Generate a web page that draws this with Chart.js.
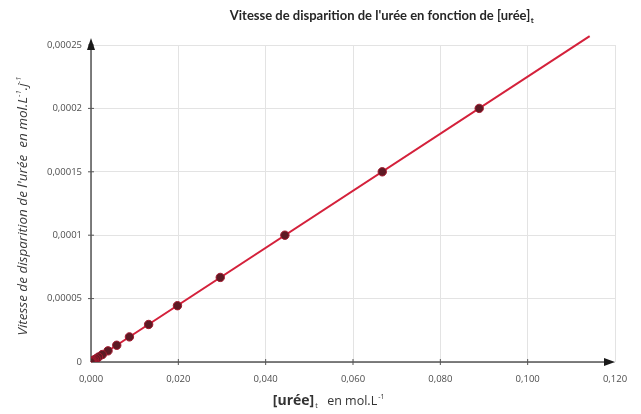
<!DOCTYPE html>
<html>
<head>
<meta charset="utf-8">
<script src="https://cdn.jsdelivr.net/npm/chart.js@4/dist/chart.umd.min.js"></script>
<style>
  html, body { margin: 0; padding: 0; background: #ffffff; }
  #wrap { width: 641px; height: 414px; position: relative; }
</style>
</head>
<body>
<div id="wrap"><canvas id="c" width="641" height="414"></canvas></div>
<script>
// Concentration d'urée (mol/L) et vitesse de disparition (mol/L/j)
const ureeConc = [0.0889, 0.0667, 0.0444, 0.0296, 0.0198, 0.0132, 0.0088, 0.0059, 0.0039, 0.0026, 0.0017, 0.0012, 0.0008, 0.0005, 0.0003, 0.0002, 0.0001, 0];
const vitesse  = [0.000200, 0.000150, 0.000100, 0.0000667, 0.0000444, 0.0000296, 0.0000198, 0.0000132, 0.0000088, 0.0000059, 0.0000039, 0.0000026, 0.0000018, 0.0000012, 0.0000007, 0.0000004, 0.0000002, 0];

// Droite de tendance (passe par l'origine)
const trendX = [0, 0.1142];
const trendY = [0, 0.000257];

const xTicks = [0, 0.02, 0.04, 0.06, 0.08, 0.10, 0.12];
const yTicks = [0, 0.00005, 0.0001, 0.00015, 0.0002, 0.00025];

const pts = ureeConc.map((x, i) => ({ x: x, y: vitesse[i] }));
const trend = trendX.map((x, i) => ({ x: x, y: trendY[i] }));

const axisColor = '#555555';

// Axes fléchés, graduations et titres
const decor = {
  id: 'decor',
  beforeDatasetsDraw(chart) {
    const { ctx, chartArea: a, scales: { x, y } } = chart;
    const x0 = x.getPixelForValue(0), y0 = y.getPixelForValue(0);
    ctx.save();
    ctx.strokeStyle = axisColor;
    ctx.lineWidth = 1.5;
    ctx.beginPath();
    ctx.moveTo(x0, y0); ctx.lineTo(a.right - 6, y0);
    ctx.moveTo(x0, y0); ctx.lineTo(x0, a.top + 4);
    ctx.stroke();
    ctx.lineWidth = 1;
    ctx.beginPath();
    xTicks.forEach(v => { const p = x.getPixelForValue(v); if (v > 0 && v < 0.12) { ctx.moveTo(p, y0 - 3); ctx.lineTo(p, y0 + 3); } });
    yTicks.forEach(v => { const p = y.getPixelForValue(v); if (v > 0) { ctx.moveTo(x0 - 3, p); ctx.lineTo(x0 + 3, p); } });
    ctx.stroke();
    // pointes de flèches
    ctx.fillStyle = '#1a1a1a';
    ctx.beginPath();
    ctx.moveTo(a.right, y0); ctx.lineTo(a.right - 11, y0 - 4); ctx.lineTo(a.right - 11, y0 + 4); ctx.closePath();
    ctx.fill();
    ctx.beginPath();
    ctx.moveTo(x0, a.top - 7); ctx.lineTo(x0 - 4, a.top + 5); ctx.lineTo(x0 + 4, a.top + 5); ctx.closePath();
    ctx.fill();
    ctx.restore();
  },
  afterDraw(chart) {
    const { ctx } = chart;
    ctx.save();
    ctx.textBaseline = 'alphabetic';
    // titre
    ctx.fillStyle = '#262626';
    ctx.font = 'bold 13px Lato, "Open Sans", sans-serif';
    const t = "Vitesse de disparition de l'urée en fonction de [urée]";
    const tw = ctx.measureText(t).width;
    const tx = 380 - tw / 2;
    ctx.textAlign = 'left';
    ctx.fillText(t, tx, 20);
    ctx.font = 'bold 8px Lato, "Open Sans", sans-serif';
    ctx.fillText('t', tx + tw + 0.5, 23);

    // titre de l'axe des abscisses
    ctx.fillStyle = '#333333';
    ctx.font = 'bold 14px "Open Sans", sans-serif';
    const a1 = '[urée]';
    const w1 = ctx.measureText(a1).width;
    ctx.font = '12.5px "Open Sans", sans-serif';
    const a2 = 'en mol.L';
    const w2 = ctx.measureText(a2).width;
    const total = w1 + 13 + w2 + 6;
    let sx = 328 - total / 2;
    ctx.font = 'bold 14px "Open Sans", sans-serif';
    ctx.fillText(a1, sx, 405);
    ctx.font = '7px "Open Sans", sans-serif';
    ctx.fillText('t', sx + w1 + 1, 408);
    ctx.font = '12.5px "Open Sans", sans-serif';
    ctx.fillText(a2, sx + w1 + 13, 405);
    ctx.font = '7px "Open Sans", sans-serif';
    ctx.fillText('-1', sx + w1 + 13 + w2 + 1, 399);

    // titre de l'axe des ordonnées
    ctx.translate(27, 205);
    ctx.rotate(-Math.PI / 2);
    ctx.fillStyle = '#3a3a3a';
    ctx.font = 'italic 13.5px "Open Sans", sans-serif';
    const b1 = "Vitesse de disparition de l'urée  en mol.L";
    const b2 = '.j';
    const wb1 = ctx.measureText(b1).width;
    const wb2 = ctx.measureText(b2).width;
    ctx.font = 'italic 8px "Open Sans", sans-serif';
    const wsup = ctx.measureText('-1').width;
    const tot = wb1 + wsup + wb2 + wsup + 2;
    let bx = -tot / 2;
    ctx.font = 'italic 13.5px "Open Sans", sans-serif';
    ctx.fillText(b1, bx, 0);
    bx += wb1;
    ctx.font = 'italic 8px "Open Sans", sans-serif';
    ctx.fillText('-1', bx, -6);
    bx += wsup;
    ctx.font = 'italic 13.5px "Open Sans", sans-serif';
    ctx.fillText(b2, bx, 0);
    bx += wb2;
    ctx.font = 'italic 8px "Open Sans", sans-serif';
    ctx.fillText('-1', bx, -6);
    ctx.restore();
  }
};

new Chart(document.getElementById('c'), {
  type: 'scatter',
  data: {
    datasets: [
      {
        label: 'Vitesse',
        data: pts,
        showLine: false,
        pointRadius: 4.2,
        pointBackgroundColor: '#5e1a24',
        pointBorderColor: '#a3192e',
        pointBorderWidth: 1,
        order: 1
      },
      {
        label: 'Tendance',
        data: trend,
        showLine: true,
        borderColor: '#d4213b',
        borderWidth: 2,
        pointRadius: 0,
        clip: false,
        order: 2
      }
    ]
  },
  options: {
    responsive: false,
    animation: false,
    devicePixelRatio: 1,
    layout: { padding: { left: 0, right: 26, top: 45, bottom: 0 } },
    plugins: { legend: { display: false }, tooltip: { enabled: false }, title: { display: false } },
    scales: {
      x: {
        type: 'linear',
        min: 0, max: 0.12,
        afterFit(s) { s.height = 52; },
        afterBuildTicks(s) { s.ticks = xTicks.map(v => ({ value: v })); },
        grid: { color: '#e3e3e3', lineWidth: 1, drawTicks: false },
        border: { display: false },
        ticks: {
          color: '#4d4d4d',
          font: { size: 9.5, family: '"Open Sans", sans-serif' },
          padding: 12,
          callback: v => v.toFixed(3).replace('.', ',')
        }
      },
      y: {
        type: 'linear',
        min: 0, max: 0.00025,
        afterFit(s) { s.width = 91; },
        afterBuildTicks(s) { s.ticks = yTicks.map(v => ({ value: v })); },
        grid: { color: '#e3e3e3', lineWidth: 1, drawTicks: false },
        border: { display: false },
        ticks: {
          color: '#4d4d4d',
          font: { size: 9.5, family: '"Open Sans", sans-serif' },
          padding: 9,
          callback: v => String(+v.toFixed(6)).replace('.', ',')
        }
      }
    }
  },
  plugins: [decor]
});
</script>
</body>
</html>
